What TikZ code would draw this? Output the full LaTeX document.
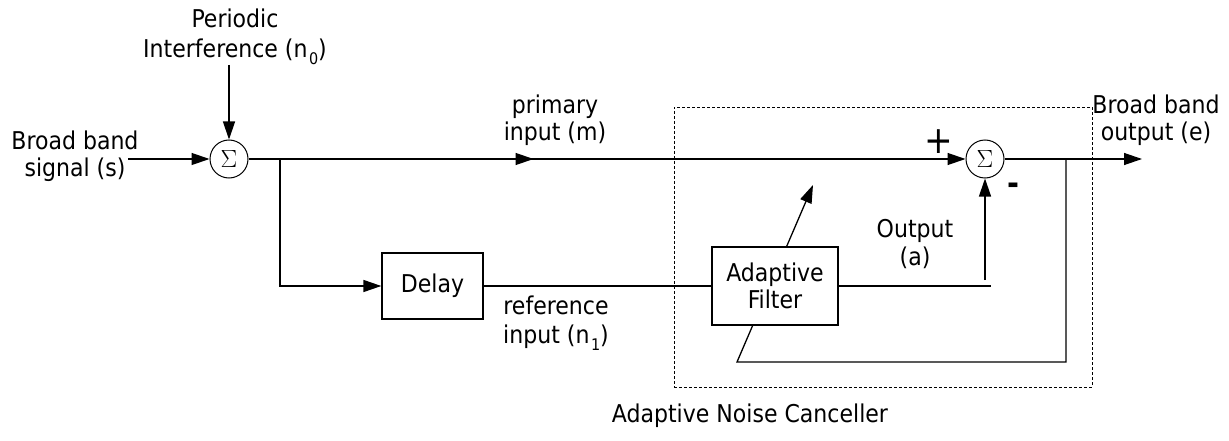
\documentclass[tikz,border=0pt]{standalone}
\usepackage{fontspec}
\setmainfont{DejaVu Sans Condensed}
\usetikzlibrary{arrows.meta,decorations.markings,backgrounds}

% lowered subscript as used in the signal names
\newcommand\lowsub[1]{\kern1.5pt\raisebox{-7pt}{\fontsize{16}{16}\selectfont #1}}

\begin{document}
\begin{tikzpicture}[x=1pt,y=-1pt,
  every node/.style={font=\fontsize{24.5}{27.5}\selectfont, inner sep=0pt},
  wire/.style={line width=1.3pt, draw=black},
  arr/.style={wire, -{Triangle[length=18pt,width=12pt]}},
  sumnode/.style={circle, draw, line width=1pt, minimum size=38pt, fill=white,
    font=\fontsize{23}{23}\selectfont},
  blockbox/.style={draw, line width=1.3pt, fill=white, align=center},
  lbl/.style={align=center},
  dotbox/.style={draw, line width=0.8pt, dash pattern=on 3pt off 2pt},
  midarrow/.style={postaction={decorate}, decoration={markings,
    mark=at position #1 with {\arrow{Triangle[length=18pt,width=12pt]}}}}
]
\useasboundingbox (0,0) rectangle (1229,441);

% canceller frame and caption
\node[dotbox, minimum width=418pt, minimum height=280pt] (anc) at (883,247) {};
\node (title) at (750,416) {Adaptive Noise Canceller};

% summing junctions and blocks
\node[sumnode] (s1) at (229,159) {$\Sigma$};
\node[sumnode] (s2) at (985,159) {$\Sigma$};
\node[blockbox, minimum width=101pt, minimum height=66pt] (delay) at (432.5,286) {Delay};
\node[blockbox, minimum width=126pt, minimum height=78pt] (filt) at (775,286) {Adaptive\\Filter};

% signal labels
\node[lbl] (ls) at (75,156) {Broad band\\signal (s)};
\node[lbl] (ln0) at (235,37) {Periodic\\[2pt]Interference (n\lowsub{0})};
\node[lbl] (lm) at (555,120) {primary\\input (m)};
\node[lbl] (le) at (1156,120) {Broad band\\output (e)};
\node[lbl] (la) at (915,244) {Output\\(a)};
\node[lbl] (ln1) at (556,323) {reference\\[2pt]input (n\lowsub{1})};
\node (plus) at (939,142) {\fontsize{38}{38}\selectfont +};
\node (minus) at (1013,189) {\fontsize{32}{32}\selectfont\bfseries -};

% junction points
\coordinate (sin) at (128,159);
\coordinate (br) at (280,159);
\coordinate (eout) at (1142,159);
\coordinate (fb) at (1066,159);
\coordinate (fbl) at (737,362);
\coordinate (adj) at (813,185);
\coordinate (aend) at (991,286);
\coordinate (aup) at (985,280);

% inputs
\draw[arr] (sin) -- (s1);
\draw[arr] (s1 |- ln0.south) -- (s1);

% primary path
\draw[wire, midarrow=285pt, -{Triangle[length=18pt,width=12pt]}] (s1) -- (s2);

% reference path
\draw[arr] (br) |- (delay);
\draw[wire] (delay) -- (filt);
\draw[wire] (filt) -- (aend);
\draw[arr] (aup) -- (s2);

% error output
\draw[arr] (s2) -- (eout);

% error fed back to the filter, arrow crossing behind the block
\begin{scope}[on background layer]
  \draw[arr] (fb) |- (fbl) -- (adj);
\end{scope}
\end{tikzpicture}
\end{document}
